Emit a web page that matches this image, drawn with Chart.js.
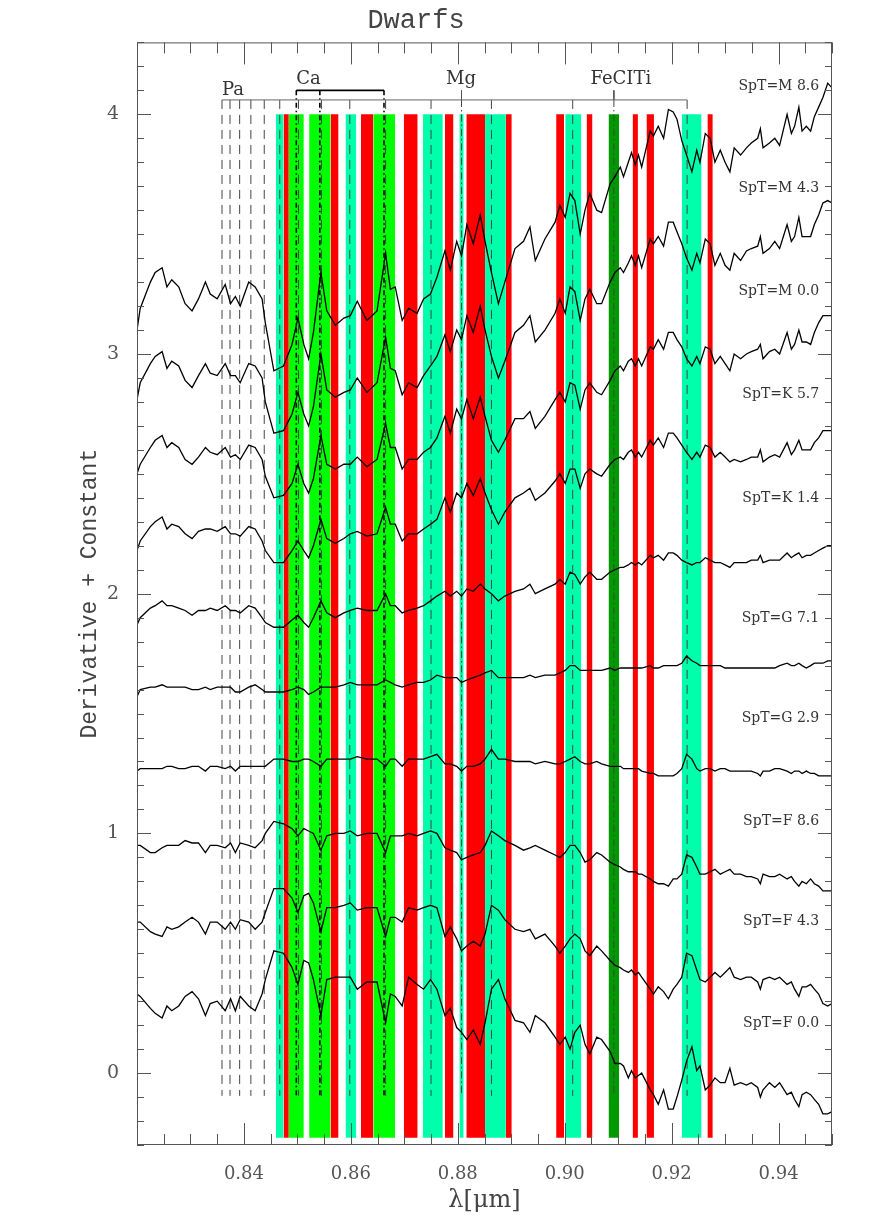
<!DOCTYPE html>
<html>
<head>
<meta charset="utf-8">
<script src="https://cdn.jsdelivr.net/npm/chart.js@4.4.1/dist/chart.umd.min.js"></script>
<style>
  html, body { margin: 0; padding: 0; background: #fff; }
</style>
</head>
<body>
<canvas id="dwarfs" width="872" height="1232"></canvas>
<script>
// wavelength grid (micron), shared by all spectra
const wl = [
  0.8200, 0.8206, 0.8225, 0.8234, 0.8247, 0.8256, 0.8265, 0.8278, 0.8290, 0.8303, 0.8315, 0.8328, 0.8337, 0.8350, 0.8365, 0.8375, 0.8384, 0.8393, 0.8409, 0.8421, 0.8434, 0.8440,
  0.8456, 0.8474, 0.8490, 0.8501, 0.8512, 0.8521, 0.8530, 0.8544, 0.8555, 0.8571, 0.8587, 0.8599, 0.8612, 0.8630, 0.8649, 0.8665, 0.8674, 0.8683, 0.8696, 0.8708, 0.8724, 0.8736, 0.8749, 0.8761,
  0.8776, 0.8786, 0.8798, 0.8807, 0.8817, 0.8829, 0.8842, 0.8851, 0.8863, 0.8876, 0.8888, 0.8907, 0.8923, 0.8935, 0.8945, 0.8963, 0.8982, 0.8991, 0.9001, 0.9010,
  0.9019, 0.9029, 0.9038, 0.9047, 0.9060, 0.9069, 0.9085, 0.9094, 0.9104, 0.9110, 0.9119, 0.9125, 0.9132, 0.9138, 0.9144, 0.9160, 0.9166, 0.9175, 0.9185, 0.9194,
  0.9203, 0.9210, 0.9219, 0.9228, 0.9238, 0.9247, 0.9253, 0.9263, 0.9272, 0.9281, 0.9291, 0.9300, 0.9309,
  0.9317, 0.9329, 0.9340, 0.9349, 0.9361, 0.9366, 0.9371, 0.9383, 0.9393, 0.9402, 0.9416, 0.9424, 0.9430, 0.9438, 0.9444, 0.9452, 0.9460, 0.9467, 0.9475, 0.9483, 0.9492, 0.9500
];

const spTypes = ['M 8.6', 'M 4.3', 'M 0.0', 'K 5.7', 'K 1.4', 'G 7.1', 'G 2.9', 'F 8.6', 'F 4.3', 'F 0.0'];

// derivative + constant, one array per spectral type
const dM86 = [
  3.10, 3.19, 3.30, 3.34, 3.36, 3.28, 3.31, 3.28, 3.21, 3.18, 3.23, 3.30, 3.25, 3.23, 3.29, 3.21, 3.24, 3.20, 3.30, 3.28, 3.23, 3.13,
  2.93, 2.95, 3.04, 3.15, 3.04, 2.98, 3.09, 3.34, 3.18, 3.12, 3.15, 3.16, 3.22, 3.14, 3.18, 3.42, 3.27, 3.28, 3.14, 3.19, 3.17, 3.23, 3.25, 3.32,
  3.43, 3.35, 3.47, 3.41, 3.54, 3.46, 3.58, 3.47, 3.34, 3.21, 3.30, 3.44, 3.47, 3.53, 3.39, 3.48, 3.55, 3.62, 3.57, 3.67,
  3.64, 3.50, 3.60, 3.67, 3.60, 3.59, 3.71, 3.74, 3.78, 3.74, 3.80, 3.84, 3.79, 3.83, 3.78, 3.93, 3.91, 3.95, 3.90, 4.02,
  4.01, 3.98, 3.89, 3.83, 3.76, 3.85, 3.80, 3.92, 3.90, 3.80, 3.85, 3.80, 3.76,
  3.86, 3.83, 3.86, 3.88, 3.90, 3.94, 3.86, 3.88, 3.90, 3.87, 4.00, 3.92, 3.95, 4.03, 3.93, 3.95, 3.93, 3.99, 4.03, 4.07, 4.13, 4.11
];
const dM43 = [
  2.81, 2.88, 2.96, 2.99, 3.01, 2.94, 2.97, 2.95, 2.89, 2.86, 2.91, 2.96, 2.92, 2.91, 2.96, 2.91, 2.91, 2.88, 2.96, 2.95, 2.90, 2.80,
  2.67, 2.68, 2.75, 2.84, 2.75, 2.70, 2.78, 3.00, 2.85, 2.82, 2.84, 2.85, 2.90, 2.84, 2.88, 3.07, 2.94, 2.93, 2.83, 2.88, 2.86, 2.91, 2.95, 2.99,
  3.08, 3.01, 3.10, 3.06, 3.16, 3.09, 3.20, 3.10, 2.99, 2.90, 2.97, 3.09, 3.12, 3.16, 3.05, 3.10, 3.17, 3.23, 3.17, 3.28,
  3.26, 3.14, 3.23, 3.27, 3.21, 3.21, 3.30, 3.34, 3.36, 3.34, 3.38, 3.41, 3.37, 3.41, 3.36, 3.48, 3.46, 3.49, 3.45, 3.55,
  3.55, 3.51, 3.46, 3.40, 3.35, 3.42, 3.38, 3.48, 3.46, 3.37, 3.42, 3.37, 3.35,
  3.42, 3.39, 3.43, 3.44, 3.45, 3.49, 3.42, 3.44, 3.47, 3.44, 3.54, 3.47, 3.49, 3.57, 3.49, 3.49, 3.49, 3.54, 3.58, 3.63, 3.64, 3.63
];
const dM00 = [
  2.50, 2.54, 2.61, 2.64, 2.66, 2.61, 2.63, 2.61, 2.56, 2.54, 2.57, 2.61, 2.59, 2.58, 2.61, 2.57, 2.58, 2.56, 2.62, 2.61, 2.56, 2.49,
  2.40, 2.41, 2.46, 2.54, 2.46, 2.42, 2.48, 2.66, 2.54, 2.52, 2.54, 2.54, 2.57, 2.53, 2.56, 2.71, 2.61, 2.61, 2.52, 2.56, 2.56, 2.59, 2.61, 2.65,
  2.74, 2.67, 2.77, 2.73, 2.81, 2.73, 2.82, 2.74, 2.64, 2.59, 2.64, 2.73, 2.73, 2.76, 2.69, 2.74, 2.81, 2.84, 2.80, 2.88,
  2.87, 2.77, 2.85, 2.88, 2.84, 2.83, 2.89, 2.93, 2.95, 2.93, 2.97, 2.98, 2.95, 2.98, 2.95, 3.03, 3.02, 3.06, 3.02, 3.09,
  3.09, 3.06, 3.03, 2.98, 2.95, 2.99, 2.96, 3.03, 3.02, 2.96, 2.99, 2.96, 2.93,
  3.00, 2.98, 3.00, 3.01, 3.02, 3.04, 2.98, 3.01, 3.02, 3.00, 3.09, 3.02, 3.04, 3.10, 3.05, 3.05, 3.04, 3.09, 3.13, 3.16, 3.16, 3.16
];
const dK57 = [
  2.18, 2.22, 2.28, 2.30, 2.32, 2.27, 2.29, 2.28, 2.25, 2.23, 2.26, 2.27, 2.27, 2.26, 2.28, 2.25, 2.25, 2.24, 2.28, 2.27, 2.22, 2.18,
  2.13, 2.13, 2.18, 2.22, 2.18, 2.15, 2.20, 2.31, 2.23, 2.21, 2.23, 2.25, 2.26, 2.24, 2.25, 2.36, 2.29, 2.29, 2.22, 2.25, 2.25, 2.27, 2.29, 2.31,
  2.40, 2.34, 2.42, 2.40, 2.46, 2.41, 2.48, 2.42, 2.35, 2.29, 2.34, 2.40, 2.42, 2.44, 2.39, 2.42, 2.47, 2.50, 2.46, 2.52,
  2.52, 2.44, 2.50, 2.52, 2.50, 2.49, 2.54, 2.56, 2.57, 2.56, 2.59, 2.60, 2.57, 2.59, 2.57, 2.64, 2.62, 2.65, 2.61, 2.67,
  2.67, 2.65, 2.62, 2.59, 2.56, 2.59, 2.57, 2.62, 2.61, 2.57, 2.59, 2.57, 2.55,
  2.56, 2.55, 2.56, 2.57, 2.57, 2.60, 2.55, 2.57, 2.58, 2.57, 2.63, 2.58, 2.60, 2.64, 2.60, 2.60, 2.60, 2.63, 2.65, 2.68, 2.68, 2.68
];
const dK14 = [
  1.87, 1.90, 1.94, 1.95, 1.97, 1.95, 1.95, 1.94, 1.93, 1.91, 1.93, 1.93, 1.94, 1.93, 1.95, 1.93, 1.93, 1.92, 1.95, 1.94, 1.90, 1.88,
  1.86, 1.86, 1.89, 1.91, 1.88, 1.86, 1.90, 1.97, 1.92, 1.90, 1.92, 1.93, 1.94, 1.93, 1.93, 2.00, 1.95, 1.95, 1.92, 1.93, 1.94, 1.95, 1.97, 1.99,
  2.01, 1.99, 2.01, 1.99, 2.02, 2.01, 2.04, 2.02, 2.00, 1.97, 1.99, 2.01, 2.02, 2.04, 2.00, 2.02, 2.04, 2.06, 2.04, 2.09,
  2.08, 2.04, 2.07, 2.09, 2.06, 2.06, 2.09, 2.10, 2.11, 2.11, 2.12, 2.13, 2.12, 2.13, 2.12, 2.16, 2.15, 2.16, 2.14, 2.17,
  2.17, 2.16, 2.14, 2.13, 2.12, 2.13, 2.13, 2.15, 2.14, 2.13, 2.13, 2.12, 2.11,
  2.13, 2.13, 2.13, 2.14, 2.14, 2.16, 2.13, 2.14, 2.14, 2.14, 2.17, 2.15, 2.16, 2.17, 2.15, 2.16, 2.16, 2.17, 2.18, 2.19, 2.20, 2.20
];
const dG71 = [
  1.57, 1.60, 1.61, 1.61, 1.62, 1.61, 1.61, 1.61, 1.61, 1.60, 1.60, 1.61, 1.60, 1.61, 1.61, 1.61, 1.59, 1.59, 1.61, 1.62, 1.60, 1.59,
  1.59, 1.59, 1.60, 1.61, 1.60, 1.58, 1.59, 1.61, 1.61, 1.61, 1.62, 1.63, 1.62, 1.62, 1.62, 1.64, 1.63, 1.62, 1.61, 1.62, 1.63, 1.63, 1.64, 1.66,
  1.65, 1.65, 1.65, 1.63, 1.64, 1.65, 1.66, 1.67, 1.68, 1.65, 1.65, 1.65, 1.65, 1.66, 1.65, 1.66, 1.66, 1.67, 1.68, 1.70,
  1.70, 1.68, 1.68, 1.68, 1.68, 1.68, 1.69, 1.68, 1.69, 1.69, 1.69, 1.69, 1.69, 1.69, 1.69, 1.70, 1.69, 1.69, 1.70, 1.70,
  1.70, 1.70, 1.71, 1.74, 1.72, 1.71, 1.70, 1.70, 1.70, 1.70, 1.70, 1.69, 1.69,
  1.69, 1.69, 1.69, 1.69, 1.69, 1.69, 1.69, 1.69, 1.69, 1.70, 1.71, 1.70, 1.70, 1.71, 1.70, 1.69, 1.70, 1.71, 1.71, 1.71, 1.72, 1.72
];
const dG29 = [
  1.26, 1.27, 1.27, 1.27, 1.27, 1.28, 1.28, 1.27, 1.27, 1.28, 1.28, 1.26, 1.28, 1.28, 1.27, 1.28, 1.26, 1.28, 1.28, 1.28, 1.28, 1.28,
  1.31, 1.31, 1.30, 1.30, 1.31, 1.31, 1.30, 1.28, 1.31, 1.31, 1.31, 1.31, 1.32, 1.31, 1.31, 1.28, 1.31, 1.31, 1.28, 1.31, 1.31, 1.31, 1.32, 1.33,
  1.29, 1.29, 1.28, 1.26, 1.28, 1.28, 1.29, 1.31, 1.35, 1.31, 1.31, 1.30, 1.30, 1.30, 1.29, 1.30, 1.29, 1.29, 1.30, 1.31,
  1.32, 1.30, 1.29, 1.29, 1.30, 1.29, 1.28, 1.28, 1.28, 1.27, 1.27, 1.27, 1.27, 1.27, 1.26, 1.25, 1.25, 1.24, 1.24, 1.24,
  1.24, 1.25, 1.27, 1.33, 1.31, 1.27, 1.26, 1.27, 1.27, 1.26, 1.27, 1.27, 1.26,
  1.26, 1.26, 1.26, 1.26, 1.25, 1.24, 1.26, 1.26, 1.27, 1.27, 1.26, 1.25, 1.26, 1.26, 1.25, 1.26, 1.25, 1.25, 1.24, 1.24, 1.24, 1.24
];
const dF86 = [
  0.95, 0.95, 0.92, 0.92, 0.94, 0.95, 0.95, 0.95, 0.97, 0.96, 0.96, 0.92, 0.95, 0.95, 0.94, 0.96, 0.92, 0.96, 0.95, 0.94, 0.97, 1.00,
  1.05, 1.04, 1.02, 0.99, 1.02, 1.01, 1.00, 0.93, 0.99, 1.00, 1.00, 1.01, 0.99, 1.00, 1.00, 0.92, 0.99, 0.99, 0.99, 1.00, 0.99, 1.00, 1.01, 1.00,
  0.94, 0.93, 0.92, 0.89, 0.90, 0.91, 0.92, 0.95, 1.01, 0.99, 0.97, 0.95, 0.93, 0.94, 0.95, 0.93, 0.91, 0.90, 0.92, 0.95,
  0.95, 0.92, 0.88, 0.89, 0.92, 0.91, 0.88, 0.87, 0.86, 0.85, 0.84, 0.84, 0.84, 0.83, 0.83, 0.81, 0.80, 0.79, 0.79, 0.78,
  0.81, 0.81, 0.83, 0.91, 0.90, 0.86, 0.83, 0.83, 0.84, 0.85, 0.83, 0.84, 0.85,
  0.83, 0.83, 0.82, 0.82, 0.81, 0.79, 0.83, 0.82, 0.82, 0.83, 0.81, 0.82, 0.80, 0.78, 0.80, 0.79, 0.81, 0.79, 0.78, 0.76, 0.76, 0.76
];
const dF43 = [
  0.63, 0.63, 0.59, 0.58, 0.57, 0.61, 0.60, 0.61, 0.63, 0.65, 0.63, 0.58, 0.63, 0.63, 0.60, 0.63, 0.60, 0.64, 0.63, 0.60, 0.63, 0.67,
  0.77, 0.77, 0.73, 0.67, 0.74, 0.75, 0.71, 0.59, 0.69, 0.69, 0.70, 0.71, 0.68, 0.69, 0.69, 0.57, 0.65, 0.65, 0.63, 0.69, 0.68, 0.69, 0.70, 0.69,
  0.57, 0.61, 0.56, 0.51, 0.53, 0.55, 0.53, 0.58, 0.70, 0.68, 0.64, 0.60, 0.59, 0.60, 0.56, 0.58, 0.53, 0.50, 0.53, 0.56,
  0.58, 0.56, 0.51, 0.49, 0.53, 0.51, 0.47, 0.45, 0.44, 0.43, 0.42, 0.43, 0.41, 0.42, 0.40, 0.35, 0.33, 0.36, 0.34, 0.31,
  0.35, 0.37, 0.40, 0.50, 0.49, 0.43, 0.39, 0.38, 0.40, 0.42, 0.40, 0.42, 0.44,
  0.40, 0.39, 0.40, 0.40, 0.38, 0.35, 0.39, 0.40, 0.39, 0.40, 0.37, 0.38, 0.35, 0.32, 0.36, 0.36, 0.37, 0.35, 0.33, 0.29, 0.28, 0.29
];
const dF00 = [
  0.33, 0.32, 0.27, 0.25, 0.23, 0.28, 0.26, 0.28, 0.32, 0.34, 0.31, 0.24, 0.29, 0.30, 0.26, 0.31, 0.26, 0.32, 0.28, 0.26, 0.33, 0.39,
  0.51, 0.50, 0.44, 0.37, 0.47, 0.46, 0.39, 0.24, 0.39, 0.40, 0.40, 0.40, 0.35, 0.38, 0.38, 0.21, 0.33, 0.32, 0.28, 0.40, 0.37, 0.35, 0.39, 0.35,
  0.24, 0.27, 0.19, 0.17, 0.14, 0.18, 0.12, 0.21, 0.35, 0.39, 0.31, 0.22, 0.21, 0.17, 0.24, 0.21, 0.15, 0.12, 0.15, 0.10,
  0.17, 0.20, 0.12, 0.08, 0.15, 0.14, 0.09, 0.04, 0.04, 0.03, -0.02, 0.01, -0.02, -0.01, 0.00, -0.07, -0.09, -0.13, -0.07, -0.15,
  -0.15, -0.10, -0.03, 0.05, 0.11, 0.01, 0.03, -0.07, -0.05, -0.02, -0.04, -0.04, 0.02,
  -0.05, -0.04, -0.05, -0.04, -0.06, -0.10, -0.07, -0.04, -0.06, -0.04, -0.09, -0.08, -0.11, -0.14, -0.09, -0.08, -0.09, -0.11, -0.13, -0.17, -0.17, -0.16
];
const spectra = [dM86, dM43, dM00, dK57, dK14, dG71, dG29, dF86, dF43, dF00];

// shaded wavelength windows
const bandFrom = [0.8460, 0.8474, 0.8484, 0.8522, 0.8562, 0.8590, 0.8619, 0.8642, 0.8699, 0.8735, 0.8776, 0.8803, 0.8816, 0.8851, 0.8890, 0.8984, 0.9001, 0.9041, 0.9082, 0.9127, 0.9153, 0.9219, 0.9267];
const bandTo   = [0.8474, 0.8484, 0.8512, 0.8562, 0.8577, 0.8610, 0.8642, 0.8683, 0.8725, 0.8772, 0.8792, 0.8811, 0.8851, 0.8890, 0.8901, 0.8999, 0.9031, 0.9052, 0.9102, 0.9137, 0.9167, 0.9256, 0.9277];
const bandKind = ['pa', 'red', 'ca', 'ca', 'red', 'pa', 'red', 'ca', 'red', 'pa', 'red', 'pa', 'red', 'pa', 'red', 'red', 'pa', 'red', 'fe', 'red', 'red', 'pa', 'red'];

// line identifications
const paschenWl = [0.8359, 0.8374, 0.8392, 0.8413, 0.8438, 0.8467, 0.8502, 0.8545, 0.8598, 0.8665, 0.8750, 0.8863, 0.9015, 0.9229];
const caWl = [0.8498, 0.8542, 0.8662];
const metalWl = [0.8807, 0.9092];
const featureNames = ['Pa', 'Ca', 'Mg', 'FeCITi'];
const featureWl = [0.8359, 0.8498, 0.8806, 0.9105];

// layout / style
const BAND_TOP = 4.0, BAND_BOTTOM = -0.27;
const PA_TOP = 4.06, CA_TOP = 4.10, LINE_BOTTOM = -0.095;
const featureTextY = [4.10, 4.145, 4.145, 4.145];
const featureAlign = ['left', 'left', 'center', 'center'];
const spTextWl = 0.9476;
const spTextY = [4.117, 3.692, 3.261, 2.830, 2.399, 1.897, 1.480, 1.049, 0.632, 0.208];
const bandColors = { pa: '#00ffaa', ca: '#00ff00', red: '#ff0000', fe: '#009a00' };
const AXIS_GREY = '#555';

const datasets = [];

bandFrom.forEach((a, i) => {
  datasets.push({
    data: [{ x: a, y: BAND_TOP }, { x: bandTo[i], y: BAND_TOP }],
    fill: { value: BAND_BOTTOM },
    backgroundColor: bandColors[bandKind[i]],
    borderColor: 'rgba(0,0,0,0)',
    borderWidth: 0,
    pointRadius: 0,
    order: 30
  });
});

paschenWl.forEach(w => {
  datasets.push({
    data: [{ x: w, y: PA_TOP }, { x: w, y: LINE_BOTTOM }],
    borderColor: '#444', borderWidth: 1, borderDash: [9, 6],
    pointRadius: 0, fill: false, order: 20
  });
});
caWl.forEach(w => {
  datasets.push({
    data: [{ x: w, y: CA_TOP }, { x: w, y: LINE_BOTTOM }],
    borderColor: '#000', borderWidth: 1.6, borderDash: [5, 3, 1.5, 3],
    pointRadius: 0, fill: false, order: 19
  });
});
metalWl.forEach(w => {
  datasets.push({
    data: [{ x: w, y: CA_TOP }, { x: w, y: PA_TOP }],
    borderColor: '#555', borderWidth: 1, pointRadius: 0, fill: false, order: 19
  });
  datasets.push({
    data: [{ x: w, y: PA_TOP }, { x: w, y: LINE_BOTTOM }],
    borderColor: '#444', borderWidth: 1, borderDash: [7, 3, 1.5, 3],
    pointRadius: 0, fill: false, order: 19
  });
});
// brackets
datasets.push({
  data: [{ x: paschenWl[0], y: PA_TOP }, { x: paschenWl[paschenWl.length - 1], y: PA_TOP }],
  borderColor: '#666', borderWidth: 1, pointRadius: 0, fill: false, order: 18
});
datasets.push({
  data: [{ x: caWl[0], y: CA_TOP }, { x: caWl[caWl.length - 1], y: CA_TOP }],
  borderColor: '#000', borderWidth: 1.6, pointRadius: 0, fill: false, order: 18
});

spectra.forEach((s, i) => {
  datasets.push({
    label: 'SpT=' + spTypes[i],
    data: wl.map((w, j) => ({ x: w, y: s[j] })),
    borderColor: '#000', borderWidth: 1.3,
    pointRadius: 0, fill: false, tension: 0, order: 1
  });
});

const annotate = {
  id: 'annotate',
  afterDatasetsDraw(chart) {
    const { ctx, scales: { x, y } } = chart;
    ctx.save();
    ctx.fillStyle = '#333';
    ctx.textBaseline = 'middle';
    ctx.font = '14px "DejaVu Serif"';
    ctx.textAlign = 'right';
    spTypes.forEach((t, i) => {
      ctx.fillText('SpT=' + t, x.getPixelForValue(spTextWl), y.getPixelForValue(spTextY[i]));
    });
    ctx.font = '18px "DejaVu Serif"';
    featureNames.forEach((n, i) => {
      ctx.textAlign = featureAlign[i];
      ctx.fillText(n, x.getPixelForValue(featureWl[i]), y.getPixelForValue(featureTextY[i]));
    });
    ctx.restore();
  },
  afterDraw(chart) {
    // IDL style frame with inward ticks on all four sides
    const { ctx, chartArea: a, scales: { x, y } } = chart;
    ctx.save();
    ctx.strokeStyle = AXIS_GREY;
    ctx.lineWidth = 1;
    ctx.strokeRect(a.left + 0.5, a.top + 0.5, a.right - a.left - 1, a.bottom - a.top - 1);
    ctx.beginPath();
    for (let k = 164; k <= 190; k++) {
      const px = Math.round(x.getPixelForValue(k * 0.005)) + 0.5;
      const len = k % 4 === 0 ? 22 : 11;
      ctx.moveTo(px, a.bottom); ctx.lineTo(px, a.bottom - len);
      ctx.moveTo(px, a.top); ctx.lineTo(px, a.top + len);
    }
    for (let k = -3; k <= 43; k++) {
      const py = Math.round(y.getPixelForValue(k / 10)) + 0.5;
      const len = k % 10 === 0 ? 14 : 7;
      ctx.moveTo(a.left, py); ctx.lineTo(a.left + len, py);
      ctx.moveTo(a.right, py); ctx.lineTo(a.right - len, py);
    }
    ctx.stroke();
    ctx.restore();
  }
};

new Chart(document.getElementById('dwarfs'), {
  type: 'line',
  data: { datasets },
  options: {
    responsive: false,
    devicePixelRatio: 1,
    animation: false,
    layout: { padding: { left: 0, right: 40, top: 0, bottom: 0 } },
    plugins: {
      legend: { display: false },
      tooltip: { enabled: false },
      title: {
        display: true,
        text: 'Dwarfs',
        color: '#444',
        font: { family: '"Liberation Mono"', size: 27, weight: 'normal' },
        padding: { top: 5, bottom: 5 }
      }
    },
    scales: {
      x: {
        type: 'linear',
        min: 0.82, max: 0.95,
        grid: { display: false },
        border: { display: false },
        afterBuildTicks: s => { s.ticks = [0.84, 0.86, 0.88, 0.90, 0.92, 0.94].map(v => ({ value: v })); },
        afterFit: s => { s.height = 87; },
        ticks: {
          autoSkip: false, maxRotation: 0, padding: 11, color: AXIS_GREY,
          font: { family: '"DejaVu Serif"', size: 18 },
          callback: v => v.toFixed(2)
        },
        title: {
          display: true, text: 'λ[μm]', color: '#444',
          font: { family: '"DejaVu Serif"', size: 24 },
          padding: { top: 0, bottom: 17 }
        }
      },
      y: {
        min: -0.3, max: 4.3,
        grid: { display: false },
        border: { display: false },
        afterBuildTicks: s => { s.ticks = [0, 1, 2, 3, 4].map(v => ({ value: v })); },
        afterFit: s => { s.width = 137; },
        ticks: {
          autoSkip: false, padding: 10, color: AXIS_GREY,
          font: { family: '"DejaVu Serif"', size: 19 },
          callback: v => String(v)
        },
        title: {
          display: true, text: 'Derivative + Constant', color: '#444',
          font: { family: '"Liberation Mono"', size: 23 },
          padding: { top: 76, bottom: 0 }
        }
      }
    }
  },
  plugins: [annotate]
});
</script>
</body>
</html>
